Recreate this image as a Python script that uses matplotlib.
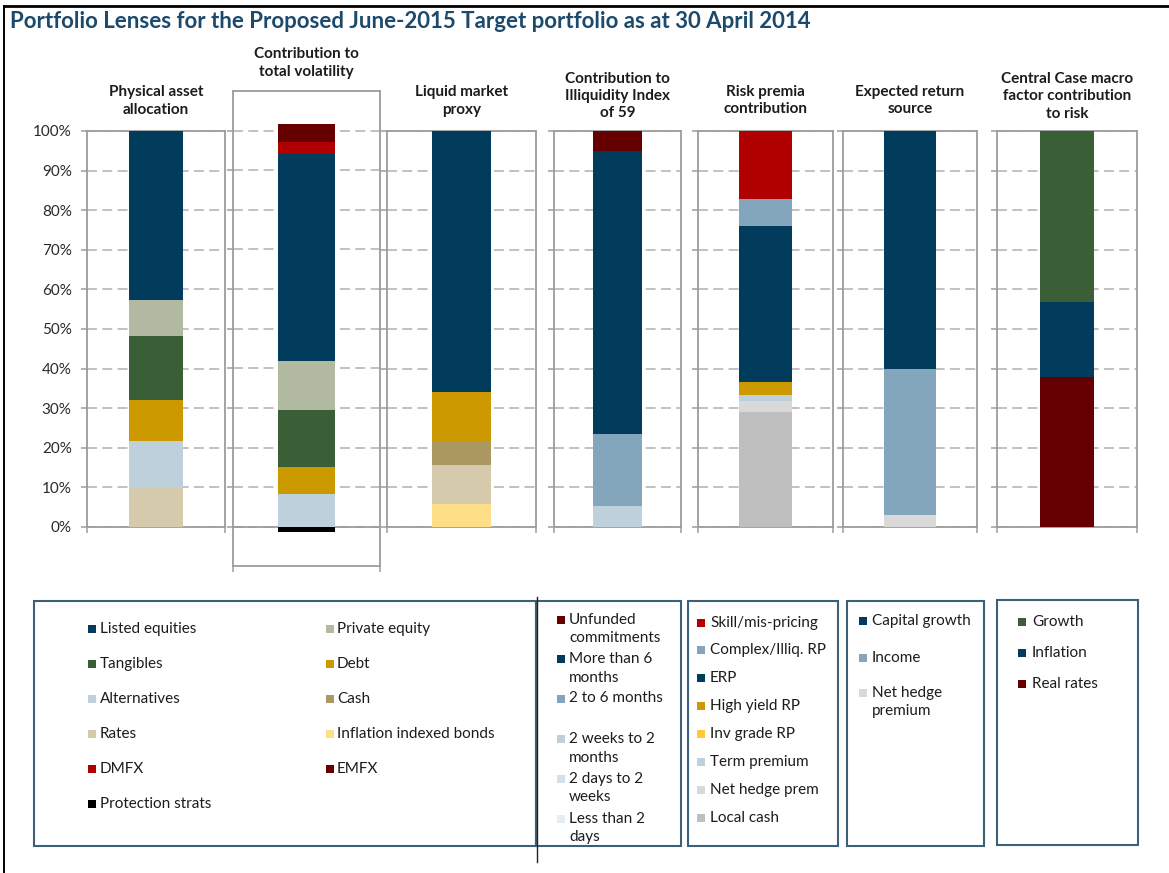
import matplotlib
matplotlib.use('Agg')
import matplotlib.pyplot as plt
from matplotlib.patches import Rectangle
from matplotlib.lines import Line2D

plt.rcParams['font.family'] = ['Lato', 'DejaVu Sans']

# ---------------- data ----------------
title_text = "Portfolio Lenses for the Proposed June-2015 Target portfolio as at 30 April 2014"

phys_title = "Physical asset\nallocation"
phys_labels = ['Rates', 'Alternatives', 'Debt', 'Tangibles', 'Private equity', 'Listed equities']
phys_values = [9.8, 11.9, 10.4, 16.2, 8.9, 42.8]

vol_title = "Contribution to\ntotal volatility"
vol_labels = ['Protection strats', 'Alternatives', 'Debt', 'Tangibles', 'Private equity',
              'Listed equities', 'DMFX', 'EMFX']
vol_values = [-1.3, 8.3, 6.9, 14.4, 12.3, 52.1, 3.1, 4.6]

liq_title = "Liquid market\nproxy"
liq_labels = ['Inflation indexed bonds', 'Rates', 'Cash', 'Debt', 'Listed equities']
liq_values = [5.9, 9.7, 6.1, 12.3, 66.0]

illiq_title = "Contribution to\nIlliquidity Index\nof 59"
illiq_labels = ['Less than 2 days', '2 days to 2 weeks', '2 weeks to 2 months',
                '2 to 6 months', 'More than 6 months', 'Unfunded commitments']
illiq_values = [0.0, 0.0, 5.2, 18.3, 71.4, 5.1]

rp_title = "Risk premia\ncontribution"
rp_labels = ['Local cash', 'Net hedge prem', 'Term premium', 'Inv grade RP', 'High yield RP',
             'ERP', 'Complex/Illiq. RP', 'Skill/mis-pricing']
rp_values = [29.0, 2.8, 1.5, 0.0, 3.2, 39.4, 6.9, 17.2]

er_title = "Expected return\nsource"
er_labels = ['Net hedge premium', 'Income', 'Capital growth']
er_values = [3.0, 37.0, 60.0]

macro_title = "Central Case macro\nfactor contribution\nto risk"
macro_labels = ['Real rates', 'Inflation', 'Growth']
macro_values = [37.8, 18.9, 43.3]

y_ticks = [0, 10, 20, 30, 40, 50, 60, 70, 80, 90, 100]
y_ticklabels = ['0%', '10%', '20%', '30%', '40%', '50%', '60%', '70%', '80%', '90%', '100%']

# legend contents (display text)
leg1_col1 = ['Listed equities', 'Tangibles', 'Alternatives', 'Rates', 'DMFX', 'Protection strats']
leg1_col2 = ['Private equity', 'Debt', 'Cash', 'Inflation indexed bonds', 'EMFX']
leg2 = ['Unfunded commitments', 'More than 6 months', '2 to 6 months',
        '2 weeks to 2 months', '2 days to 2 weeks', 'Less than 2 days']
leg2_text = ['Unfunded\ncommitments', 'More than 6\nmonths', '2 to 6 months',
             '2 weeks to 2\nmonths', '2 days to 2\nweeks', 'Less than 2\ndays']
leg3 = ['Skill/mis-pricing', 'Complex/Illiq. RP', 'ERP', 'High yield RP', 'Inv grade RP',
        'Term premium', 'Net hedge prem', 'Local cash']
leg4 = ['Capital growth', 'Income', 'Net hedge premium']
leg4_text = ['Capital growth', 'Income', 'Net hedge\npremium']
leg5 = ['Growth', 'Inflation', 'Real rates']

NAVY = '#013c5c'
colors = {
    'Listed equities': NAVY, 'ERP': NAVY, 'More than 6 months': NAVY,
    'Capital growth': NAVY, 'Inflation': NAVY,
    'Private equity': '#b1b9a1',
    'Tangibles': '#3a5e36', 'Growth': '#3a5e36',
    'Debt': '#cc9900', 'High yield RP': '#cc9900',
    'Alternatives': '#bdd0dc', 'Term premium': '#bdd0dc', '2 weeks to 2 months': '#bdd0dc',
    'Cash': '#ac9961',
    'Rates': '#d5caab',
    'Inflation indexed bonds': '#ffde88',
    'DMFX': '#b00000', 'Skill/mis-pricing': '#b00000',
    'EMFX': '#660000', 'Unfunded commitments': '#660000', 'Real rates': '#660000',
    'Protection strats': '#000000',
    '2 to 6 months': '#83a6bd', 'Complex/Illiq. RP': '#83a6bd', 'Income': '#83a6bd',
    '2 days to 2 weeks': '#d3e0e9',
    'Less than 2 days': '#e6edf2',
    'Inv grade RP': '#ffc933',
    'Net hedge prem': '#d9d9d9', 'Net hedge premium': '#d9d9d9',
    'Local cash': '#bfbfbf',
}

# ---------------- figure ----------------
W, H = 1169, 873
fig = plt.figure(figsize=(W / 100, H / 100), dpi=100)
fig.patch.set_facecolor('white')


def fx(x):
    return x / W


def fy(y):
    return 1 - y / H


GRID = '#b0b0b0'
SPINE = '#9c9c9c'
TXT = '#1c1c1c'

# outer frame (left + top)
fig.add_artist(Line2D([fx(4), fx(4)], [fy(6), fy(873)], color='black', lw=1.4))
fig.add_artist(Line2D([fx(4), fx(1169)], [fy(6), fy(6)], color='black', lw=2.0))

fig.text(fx(10), fy(22), title_text, fontsize=16, fontweight='bold',
         color='#1b4a6d', ha='left', va='center')

# (title, labels, values, (x0, x1, ytop, ybot), ylim, header_y)
panels = [
    (phys_title, phys_labels, phys_values, (87, 225, 131, 527), (0, 100), 101),
    (vol_title, vol_labels, vol_values, (233, 380, 91, 566), (-9.9, 110.0), 63),
    (liq_title, liq_labels, liq_values, (387, 536, 131, 527), (0, 100), 101),
    (illiq_title, illiq_labels, illiq_values, (554, 681, 131, 527), (0, 100), 96),
    (rp_title, rp_labels, rp_values, (698, 833, 131, 527), (0, 100), 100.5),
    (er_title, er_labels, er_values, (843, 977, 131, 527), (0, 100), 100.5),
    (macro_title, macro_labels, macro_values, (997, 1137, 131, 527), (0, 100), 96.5),
]

for i, (ptitle, labels, values, (x0, x1, yt, yb), ylim, hy) in enumerate(panels):
    ax = fig.add_axes([fx(x0), fy(yb), (x1 - x0) / W, (yb - yt) / H])
    pos_b, neg_b = 0.0, 0.0
    for lab, v in zip(labels, values):
        if v >= 0:
            ax.bar(0, v, width=0.39, bottom=pos_b, color=colors[lab], linewidth=0, zorder=3)
            pos_b += v
        else:
            ax.bar(0, v, width=0.39, bottom=neg_b, color=colors[lab], linewidth=0, zorder=3)
            neg_b += v
    ax.set_xlim(-0.5, 0.5)
    ax.set_ylim(*ylim)
    ax.set_yticks(y_ticks)
    if i == 0:
        ax.set_yticklabels(y_ticklabels, fontsize=11, color='#2a2a2a')
    else:
        ax.set_yticklabels([])
    ax.set_xticks([-0.5, 0.5])
    ax.set_xticklabels([])
    ax.tick_params(axis='both', direction='out', length=4, width=1.1, color=SPINE, pad=7)
    ax.yaxis.grid(True, linestyle=(0, (6.5, 3.5)), color=GRID, lw=1.1, zorder=0)
    ax.set_axisbelow(True)
    for s in ax.spines.values():
        s.set_color(SPINE)
        s.set_linewidth(1.3)
    if ylim[0] < 0:
        ax.axhline(0, color=SPINE, lw=1.3, zorder=2)
    fig.text(fx((x0 + x1) / 2), fy(hy), ptitle, fontsize=11, fontweight='bold',
             color=TXT, ha='center', va='center', linespacing=1.28)

# ---------------- legends ----------------
BOX = '#3b6078'


def box(x0, y0, x1, y1):
    fig.add_artist(Rectangle((fx(x0), fy(y1)), (x1 - x0) / W, (y1 - y0) / H,
                             fill=False, edgecolor=BOX, lw=1.5, transform=fig.transFigure))


def entry(mx, tx, y, label, text, lh=18.5):
    fig.add_artist(Rectangle((fx(mx), fy(y + 4)), 8 / W, 8 / H, facecolor=colors[label],
                             edgecolor='none', transform=fig.transFigure))
    for k, line in enumerate(text.split('\n')):
        fig.text(fx(tx), fy(y + k * lh), line, fontsize=11, color=TXT,
                 ha='left', va='center')


box(34, 601, 536, 846)
box(536, 601, 681, 846)
box(688, 601, 838, 846)
box(847, 601, 984, 846)
box(997, 600, 1138, 845)
fig.add_artist(Line2D([fx(537), fx(537)], [fy(597), fy(862)], color='#222222', lw=1.0))

for k, lab in enumerate(leg1_col1):
    entry(88, 100, 628.5 + 35.1 * k, lab, lab)
for k, lab in enumerate(leg1_col2):
    entry(326, 337, 628.5 + 35.1 * k, lab, lab)

leg2_y = [620, 659, 698.5, 739, 778.5, 819]
for lab, txt, y in zip(leg2, leg2_text, leg2_y):
    entry(557, 569, y, lab, txt)

for k, lab in enumerate(leg3):
    entry(697, 710, 622.5 + 27.9 * k, lab, lab)

leg4_y = [621, 657.5, 693]
for lab, txt, y in zip(leg4, leg4_text, leg4_y):
    entry(859, 872, y, lab, txt)

for k, lab in enumerate(leg5):
    entry(1018, 1032, 622 + 30.8 * k, lab, lab)

fig.savefig('out.png', dpi=100)
